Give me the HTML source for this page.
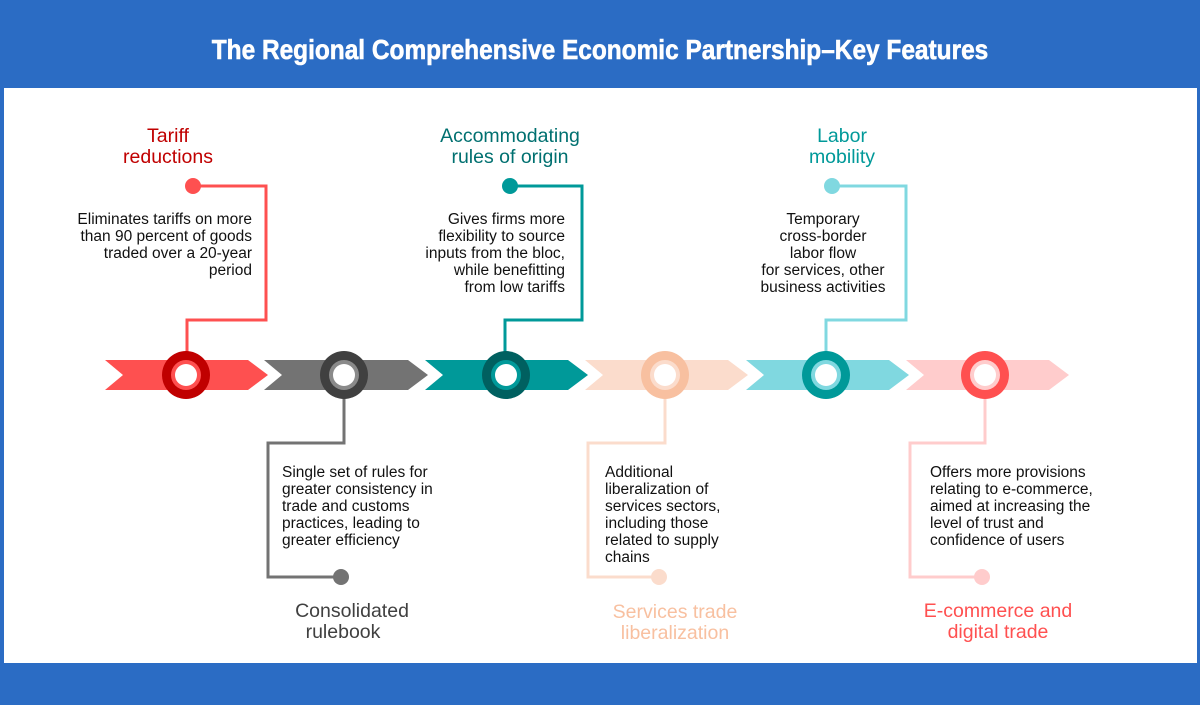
<!DOCTYPE html>
<html><head><style>
body{margin:0;width:1200px;height:700px;background:#2b6cc4;overflow:hidden;font-family:"Liberation Sans",sans-serif}
</style></head><body>
<svg width="1200" height="700" xmlns="http://www.w3.org/2000/svg" font-family="Liberation Sans, sans-serif">
<rect x="0" y="0" width="1200" height="700" fill="#2b6cc4"/>
<rect x="4" y="88" width="1193" height="575" fill="#ffffff"/>
<text x="600" y="59" text-anchor="middle" fill="#fff" font-size="28" font-weight="bold" stroke="#fff" stroke-width="0.6" transform="translate(600 0) scale(0.873 1) translate(-600 0)">The Regional Comprehensive Economic Partnership–Key Features</text>
<g>
<polygon points="105,360 248,360 268,375 248,390 105,390 123,375" fill="#fe5050"/>
<polygon points="264,360 408,360 428,375 408,390 264,390 282,375" fill="#737373"/>
<polygon points="425,360 568,360 588,375 568,390 425,390 443,375" fill="#009999"/>
<polygon points="585,360 728,360 748,375 728,390 585,390 603,375" fill="#fbdccc"/>
<polygon points="746,360 889,360 909,375 889,390 746,390 764,375" fill="#80d8e0"/>
<polygon points="906,360 1049,360 1069,375 1049,390 906,390 924,375" fill="#ffcccc"/>
</g>
<g fill="none" stroke-width="3">
<polyline points="193,186 266,186 266,320 187,320 187,352" stroke="#fe5050"/>
<polyline points="510,186 582,186 582,320 505,320 505,352" stroke="#009999"/>
<polyline points="832,186 906,186 906,320 826,320 826,352" stroke="#80d8e0"/>
<polyline points="344,398 344,443 268,443 268,577 341,577" stroke="#737373"/>
<polyline points="665,398 665,443 588,443 588,577 659,577" stroke="#fbdccc"/>
<polyline points="985,398 985,443 910,443 910,577 982,577" stroke="#ffcccc"/>
</g>
<circle cx="193" cy="186" r="8" fill="#fe5050"/>
<circle cx="510" cy="186" r="8" fill="#009999"/>
<circle cx="832" cy="186" r="8" fill="#80d8e0"/>
<circle cx="341" cy="577" r="8" fill="#737373"/>
<circle cx="659" cy="577" r="8" fill="#fbdccc"/>
<circle cx="982" cy="577" r="8" fill="#ffcccc"/>
<g>
<circle cx="186" cy="375" r="24" fill="#c00000"/><circle cx="186" cy="375" r="15" fill="#fe5050"/><circle cx="186" cy="375" r="11" fill="#fff"/>
<circle cx="344" cy="375" r="24" fill="#404040"/><circle cx="344" cy="375" r="15" fill="#8a8a8a"/><circle cx="344" cy="375" r="11" fill="#fff"/>
<circle cx="506" cy="375" r="24" fill="#006060"/><circle cx="506" cy="375" r="15" fill="#009999"/><circle cx="506" cy="375" r="11" fill="#fff"/>
<circle cx="665" cy="375" r="24" fill="#f8c0a0"/><circle cx="665" cy="375" r="15" fill="#fbdccc"/><circle cx="665" cy="375" r="11" fill="#fff"/>
<circle cx="826" cy="375" r="24" fill="#009999"/><circle cx="826" cy="375" r="15" fill="#80d8e0"/><circle cx="826" cy="375" r="11" fill="#fff"/>
<circle cx="985" cy="375" r="24" fill="#ff5050"/><circle cx="985" cy="375" r="15" fill="#ffcccc"/><circle cx="985" cy="375" r="11" fill="#fff"/>
</g>
<g font-size="19.5" text-anchor="middle">
<text x="168" y="142" fill="#c00000">Tariff</text><text x="168" y="163" fill="#c00000">reductions</text>
<text x="510" y="142" fill="#007070">Accommodating</text><text x="510" y="163" fill="#007070">rules of origin</text>
<text x="842" y="142" fill="#009999">Labor</text><text x="842" y="163" fill="#009999">mobility</text>
<text x="352" y="617" fill="#404040">Consolidated</text><text x="343" y="638" fill="#404040">rulebook</text>
<text x="675" y="618" fill="#f8c0a0">Services trade</text><text x="675" y="639" fill="#f8c0a0">liberalization</text>
<text x="998" y="617" fill="#ff5050">E-commerce and</text><text x="998" y="638" fill="#ff5050">digital trade</text>
</g>
<g font-size="15.5" fill="#111">
<g text-anchor="end">
<text x="252" y="224">Eliminates tariffs on more</text>
<text x="252" y="241">than 90 percent of goods</text>
<text x="252" y="258">traded over a 20-year</text>
<text x="252" y="275">period</text>
<text x="565" y="224">Gives firms more</text>
<text x="565" y="241">flexibility to source</text>
<text x="565" y="258">inputs from the bloc,</text>
<text x="565" y="275">while benefitting</text>
<text x="565" y="292">from low tariffs</text>
</g>
<g text-anchor="middle">
<text x="823" y="224">Temporary</text>
<text x="823" y="241">cross-border</text>
<text x="823" y="258">labor flow</text>
<text x="823" y="275">for services, other</text>
<text x="823" y="292">business activities</text>
</g>
<text x="282" y="477">Single set of rules for</text>
<text x="282" y="494">greater consistency in</text>
<text x="282" y="511">trade and customs</text>
<text x="282" y="528">practices, leading to</text>
<text x="282" y="545">greater efficiency</text>
<text x="605" y="477">Additional</text>
<text x="605" y="494">liberalization of</text>
<text x="605" y="511">services sectors,</text>
<text x="605" y="528">including those</text>
<text x="605" y="545">related to supply</text>
<text x="605" y="562">chains</text>
<text x="930" y="477">Offers more provisions</text>
<text x="930" y="494">relating to e-commerce,</text>
<text x="930" y="511">aimed at increasing the</text>
<text x="930" y="528">level of trust and</text>
<text x="930" y="545">confidence of users</text>
</g>
</svg>
</body></html>
